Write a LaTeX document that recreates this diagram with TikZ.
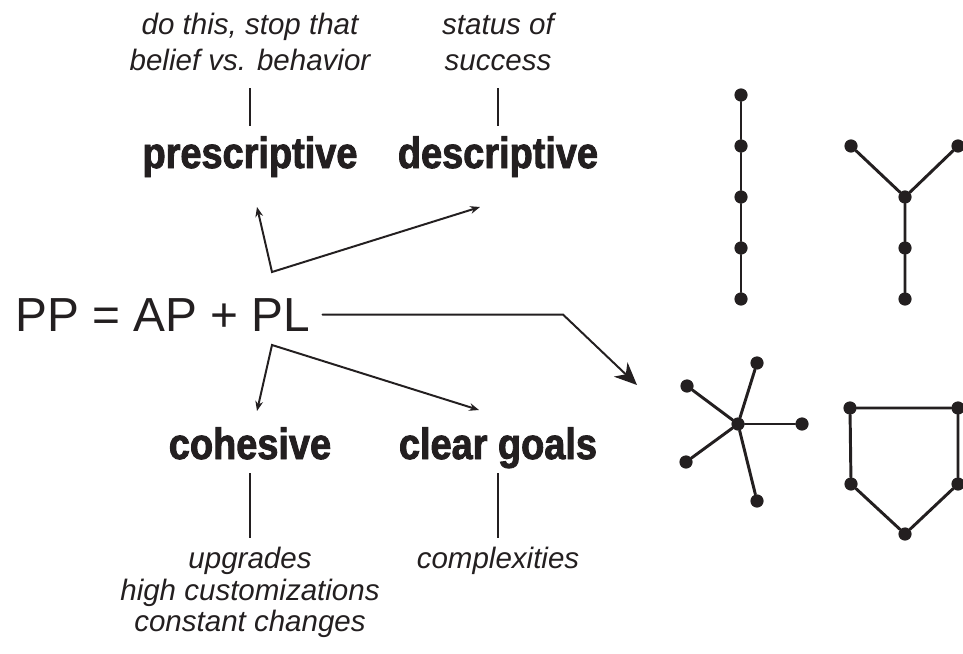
\documentclass[tikz,border=0pt]{standalone}
\usepackage{fontspec}
\setmainfont{Liberation Sans}
\newfontfamily\condfont[FakeStretch=0.87,BoldFeatures={FakeBold=2}]{Liberation Sans}
\usetikzlibrary{arrows.meta}
\definecolor{ink}{RGB}{35,31,32}

\begin{document}
\begin{tikzpicture}[>={Stealth[length=7pt,width=5.5pt]},line cap=round,color=ink,
  catname/.style={font=\condfont\bfseries\fontsize{31}{34}\selectfont,inner sep=0pt,anchor=base},
  note/.style={font=\itshape\fontsize{21}{25.6}\selectfont,align=center,inner sep=0pt,anchor=north},
  lownote/.style={note,font=\itshape\fontsize{21}{22.5}\selectfont},
  stem/.style={line width=1.4pt,line cap=butt},
  link/.style={line width=1.4pt,line join=miter},
  dot/.style={circle,fill=ink,inner sep=0pt,minimum size=9.4pt},
  bond/.style={line width=2.1pt}]
\useasboundingbox (0,0) rectangle (24.075,16.325);
% equation and the four categories
\node[font=\fontsize{34}{40}\selectfont,inner sep=0pt,anchor=base west] (pp) at (0.375,8.05) {PP = AP + PL};
\node[catname] (pres) at (6.25,12.125) {prescriptive};
\node[catname] (desc) at (12.45,12.125) {descriptive};
\node[catname] (coh) at (6.25,4.85) {cohesive};
\node[catname] (goals) at (12.45,4.85) {clear goals};
\node[note] (presnote) at (6.25,16.0) {do this, stop that\\belief vs. behavior};
\node[note] (descnote) at (12.45,16.0) {status of\\success};
\node[lownote] (cohnote) at (6.25,2.65) {upgrades\\high customizations\\constant changes};
\node[lownote] (goalsnote) at (12.45,2.65) {complexities};
\draw[stem] ([yshift=-0.425cm]presnote.south) -- ([yshift=1.05cm]pres.base);
\draw[stem] ([yshift=-0.425cm]descnote.south) -- ([yshift=1.05cm]desc.base);
\draw[stem] ([yshift=-0.35cm]coh.base) -- ([yshift=0.225cm]cohnote.north);
\draw[stem] ([yshift=-0.35cm]goals.base) -- ([yshift=0.225cm]goalsnote.north);
% split arrows
\coordinate (upcorner) at (6.8,9.525);
\coordinate (prestip) at (6.425,11.15);
\coordinate (desctip) at (12.0,11.15);
\coordinate (lowcorner) at (6.8,7.7);
\coordinate (cohtip) at (6.425,6.05);
\coordinate (goalstip) at (11.975,6.075);
\draw[link,<->] (prestip) -- (upcorner) -- (desctip);
\draw[link,<->] (cohtip) -- (lowcorner) -- (goalstip);
\coordinate (bend) at (14.075,0 |- pp.east);
\coordinate (graphtip) at (15.925,6.7);
\draw[link,-{Stealth[length=16pt,width=14pt,inset=5pt]}] ([xshift=0.3cm]pp.east) -- (bend) -- (graphtip);
% chain
\foreach \i/\y in {1/13.95,2/12.675,3/11.4,4/10.125,5/8.85}
  \node[dot] (c\i) at (18.525,\y) {};
\draw[bond] (c1) -- (c2) -- (c3) -- (c4) -- (c5);
% Y shape
\node[dot] (yl) at (21.275,12.675) {};
\node[dot] (yr) at (23.95,12.675) {};
\node[dot] (yc) at (22.625,11.4) {};
\node[dot] (ym) at (22.625,10.125) {};
\node[dot] (yb) at (22.625,8.85) {};
\draw[bond] (yl) -- (yc) -- (yr) (yc) -- (ym) -- (yb);
% star
\node[dot] (hub) at (18.45,5.725) {};
\node[dot] (s1) at (18.925,7.25) {};
\node[dot] (s2) at (17.175,6.675) {};
\node[dot] (s3) at (20.05,5.725) {};
\node[dot] (s4) at (17.15,4.775) {};
\node[dot] (s5) at (18.925,3.8) {};
\foreach \s in {s1,s2,s3,s4,s5}
  \draw[bond] (hub) -- (\s);
% pentagon
\node[dot] (p1) at (21.25,6.125) {};
\node[dot] (p2) at (23.95,6.125) {};
\node[dot] (p3) at (23.95,4.225) {};
\node[dot] (p4) at (22.625,2.975) {};
\node[dot] (p5) at (21.275,4.225) {};
\draw[bond] (p1) -- (p2) -- (p3) -- (p4) -- (p5) -- (p1);
\end{tikzpicture}
\end{document}
